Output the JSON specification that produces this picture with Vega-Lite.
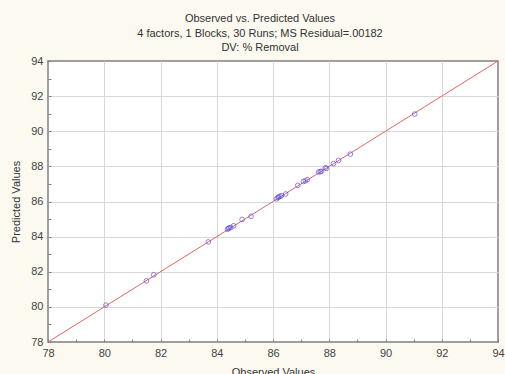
{
  "$schema": "https://vega.github.io/schema/vega-lite/v6.json",
  "width": 450,
  "height": 281,
  "autosize": {"type": "none"},
  "padding": {"left": 48, "top": 61, "right": 7, "bottom": 32},
  "background": "#fbf9f0",
  "title": {
    "text": ["Observed vs. Predicted Values", "4 factors, 1 Blocks, 30 Runs; MS Residual=.00182", "DV: % Removal"],
    "font": "Liberation Sans",
    "fontSize": 11,
    "fontWeight": "normal",
    "color": "#333333",
    "lineHeight": 14.5,
    "anchor": "middle",
    "dx": -13,
    "offset": 2
  },
  "config": {
    "view": {"fill": "white", "stroke": "#808080", "strokeWidth": 1.5},
    "axis": {
      "labelFont": "Liberation Sans",
      "labelFontSize": 11,
      "labelColor": "#444444",
      "titleFont": "Liberation Sans",
      "titleFontSize": 11,
      "titleFontWeight": "normal",
      "titleColor": "#333333",
      "domain": false,
      "gridColor": "#d8d8d8",
      "tickColor": "#808080"
    }
  },
  "layer": [
    {
      "data": {"values": [{"x": 78, "y": 78}, {"x": 94, "y": 94}]},
      "mark": {"type": "line", "color": "#e46464", "strokeWidth": 1, "clip": true},
      "encoding": {
        "x": {
          "field": "x", "type": "quantitative",
          "scale": {"domain": [78, 94], "nice": false, "zero": false},
          "axis": {
            "title": "Observed Values",
            "values": [78, 79, 80, 81, 82, 83, 84, 85, 86, 87, 88, 89, 90, 91, 92, 93, 94],
            "tickCount": 40,
            "format": "d",
            "labelExpr": "datum.value % 2 === 0 ? datum.label : ''",
            "gridOpacity": {"condition": {"test": "datum.value % 2 === 0 && datum.value > 78 && datum.value < 94", "value": 1}, "value": 0},
            "tickSize": -3,
            "labelPadding": 8,
            "titleY": 24,
            "labelFlush": false,
            "labelOverlap": false
          }
        },
        "y": {
          "field": "y", "type": "quantitative",
          "scale": {"domain": [78, 94], "nice": false, "zero": false},
          "axis": {
            "title": "Predicted Values",
            "values": [78, 79, 80, 81, 82, 83, 84, 85, 86, 87, 88, 89, 90, 91, 92, 93, 94],
            "tickCount": 40,
            "format": "d",
            "labelExpr": "datum.value % 2 === 0 ? datum.label : ''",
            "gridOpacity": {"condition": {"test": "datum.value % 2 === 0 && datum.value > 78 && datum.value < 94", "value": 1}, "value": 0},
            "tickSize": -3,
            "labelPadding": 8,
            "titleX": -27,
            "labelFlush": false,
            "labelOverlap": false
          }
        }
      }
    },
    {
      "data": {"values": [
        {"obs": 80.06, "pred": 80.10},
        {"obs": 81.50, "pred": 81.48},
        {"obs": 81.76, "pred": 81.83},
        {"obs": 83.70, "pred": 83.70},
        {"obs": 84.38, "pred": 84.42},
        {"obs": 84.44, "pred": 84.50},
        {"obs": 84.50, "pred": 84.52},
        {"obs": 84.60, "pred": 84.62},
        {"obs": 84.90, "pred": 84.98},
        {"obs": 85.22, "pred": 85.16},
        {"obs": 86.12, "pred": 86.15},
        {"obs": 86.18, "pred": 86.22},
        {"obs": 86.25, "pred": 86.30},
        {"obs": 86.30, "pred": 86.33},
        {"obs": 86.45, "pred": 86.43},
        {"obs": 86.88, "pred": 86.92},
        {"obs": 87.08, "pred": 87.14},
        {"obs": 87.15, "pred": 87.18},
        {"obs": 87.22, "pred": 87.24},
        {"obs": 87.62, "pred": 87.68},
        {"obs": 87.68, "pred": 87.70},
        {"obs": 87.72, "pred": 87.72},
        {"obs": 87.90, "pred": 87.89},
        {"obs": 88.15, "pred": 88.16},
        {"obs": 88.33, "pred": 88.34},
        {"obs": 88.75, "pred": 88.70},
        {"obs": 91.04, "pred": 90.98},
        {"obs": 84.42, "pred": 84.46},
        {"obs": 86.20, "pred": 86.26},
        {"obs": 87.86, "pred": 87.92}
      ]},
      "mark": {"type": "point", "shape": "circle", "filled": false, "color": "#5a4fe0", "size": 22, "strokeWidth": 1},
      "encoding": {
        "x": {"field": "obs", "type": "quantitative"},
        "y": {"field": "pred", "type": "quantitative"}
      }
    }
  ]
}
